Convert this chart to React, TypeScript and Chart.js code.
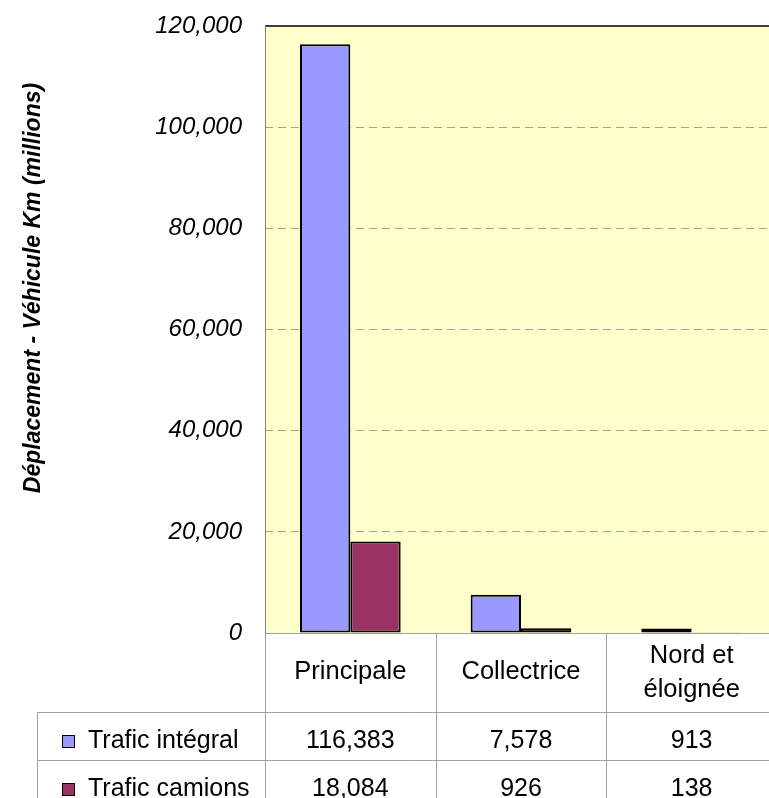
import React, { useEffect, useRef } from "react";
import { Chart, registerables } from "chart.js";

Chart.register(...registerables);

// ---- data ----
const categories = ["Principale", "Collectrice", "Nord et éloignée"];
const categoryLines = [["Principale"], ["Collectrice"], ["Nord et", "éloignée"]];
const seriesNames = ["Trafic intégral", "Trafic camions"];
const traficIntegral = [116383, 7578, 913];
const traficCamions = [18084, 926, 138];
const yTicks = [0, 20000, 40000, 60000, 80000, 100000, 120000];
const yTitle = "Déplacement - Véhicule Km (millions)";

const seriesColors = ["#9999FF", "#993366"];
const FONT = "'Liberation Sans', Arial, sans-serif";
const fmt = (v: number) => v.toLocaleString("en-US");

const tablePlugin = {
  id: "excelTable",
  beforeDraw(chart: any) {
    const { ctx, chartArea: a } = chart;
    ctx.save();
    ctx.fillStyle = "#FFFFCC";
    ctx.fillRect(a.left, a.top, a.right - a.left, a.bottom - a.top);
    ctx.restore();
  },
  afterDraw(chart: any) {
    const { ctx, chartArea: a, scales } = chart;
    const xs = scales.x;
    const n = categories.length;
    const cw = (a.right - a.left) / n;
    const H = chart.height;
    const rowTop = [a.bottom + 79, a.bottom + 127];
    const legendLeft = 37;

    ctx.save();
    // plot borders
    ctx.strokeStyle = "#000";
    ctx.lineWidth = 1.5;
    ctx.beginPath();
    ctx.moveTo(a.left, a.top);
    ctx.lineTo(a.right, a.top);
    ctx.stroke();
    ctx.strokeStyle = "#808080";
    ctx.lineWidth = 1;
    ctx.beginPath();
    ctx.moveTo(a.left + 0.5, a.top);
    ctx.lineTo(a.left + 0.5, a.bottom);
    ctx.stroke();

    // table lines
    ctx.strokeStyle = "#a0a0a0";
    ctx.lineWidth = 1;
    ctx.beginPath();
    ctx.moveTo(a.left, a.bottom + 0.5);
    ctx.lineTo(chart.width, a.bottom + 0.5);
    for (const rt of rowTop) {
      ctx.moveTo(legendLeft, rt + 0.5);
      ctx.lineTo(chart.width, rt + 0.5);
    }
    for (let i = 0; i <= n; i++) {
      const x = Math.round(a.left + i * cw) + 0.5;
      ctx.moveTo(x, a.bottom);
      ctx.lineTo(x, H);
    }
    ctx.moveTo(legendLeft + 0.5, rowTop[0]);
    ctx.lineTo(legendLeft + 0.5, H);
    ctx.stroke();

    // header labels
    ctx.fillStyle = "#000";
    ctx.font = `25.5px ${FONT}`;
    ctx.textAlign = "center";
    ctx.textBaseline = "alphabetic";
    categoryLines.forEach((lines, i) => {
      const cx = xs.getPixelForValue(i);
      if (lines.length === 1) {
        ctx.fillText(lines[0], cx, a.bottom + 46);
      } else {
        lines.forEach((t, j) => ctx.fillText(t, cx, a.bottom + 30 + j * 34));
      }
    });

    // rows
    ctx.font = `25px ${FONT}`;
    const rows = [traficIntegral, traficCamions];
    rows.forEach((vals, r) => {
      const base = rowTop[r] + 36;
      ctx.textAlign = "center";
      vals.forEach((v, i) => {
        ctx.fillText(fmt(v), xs.getPixelForValue(i), base);
      });
      // legend key
      ctx.fillStyle = seriesColors[r];
      ctx.fillRect(62, rowTop[r] + 23, 12, 12);
      ctx.strokeStyle = "#000";
      ctx.lineWidth = 1;
      ctx.strokeRect(62.5, rowTop[r] + 23.5, 12, 12);
      ctx.fillStyle = "#000";
      ctx.textAlign = "left";
      ctx.fillText(seriesNames[r], 88, base);
    });

    // y title
    ctx.translate(40, 288);
    ctx.rotate(-Math.PI / 2);
    ctx.font = `italic bold 23px ${FONT}`;
    ctx.textAlign = "center";
    ctx.fillText(yTitle, 0, 0);
    ctx.restore();
  },
};

export default function App() {
  const ref = useRef<HTMLCanvasElement | null>(null);
  useEffect(() => {
    if (!ref.current) return;
    const chart = new Chart(ref.current, {
      type: "bar",
      data: {
        labels: categories,
        datasets: [
          {
            label: seriesNames[0],
            data: traficIntegral,
            backgroundColor: seriesColors[0],
            borderColor: "#000",
            borderWidth: 2,
            borderSkipped: false,
          },
          {
            label: seriesNames[1],
            data: traficCamions,
            backgroundColor: seriesColors[1],
            borderColor: "#000",
            borderWidth: 2,
            borderSkipped: false,
          },
        ],
      },
      options: {
        responsive: false,
        animation: false,
        devicePixelRatio: 1,
        layout: { padding: { top: 26, right: 3, bottom: 165, left: 0 } },
        datasets: { bar: { categoryPercentage: 0.59, barPercentage: 1 } },
        plugins: {
          legend: { display: false },
          tooltip: { enabled: false },
          title: { display: false },
        },
        scales: {
          x: { display: false },
          y: {
            min: 0,
            max: 120000,
            afterFit: (s: any) => {
              s.width = 265;
              s.paddingTop = 0;
              s.paddingBottom = 0;
            },
            afterBuildTicks: (s: any) => {
              s.ticks = yTicks.map((v) => ({ value: v }));
            },
            ticks: {
              padding: 23,
              color: "#000",
              font: { family: FONT, size: 24, style: "italic" },
              callback: (v: any) => fmt(Number(v)),
            },
            grid: {
              drawTicks: false,
              lineWidth: 1,
              color: (c: any) =>
                c.tick && (c.tick.value === 0 || c.tick.value === 120000)
                  ? "rgba(0,0,0,0)"
                  : "#a0a0a0",
            },
            border: { display: false, dash: [8, 5] },
          },
        },
      },
      plugins: [tablePlugin],
    });
    return () => chart.destroy();
  }, []);

  return (
    <div
      style={{
        position: "absolute",
        left: 0,
        top: 0,
        width: 769,
        height: 798,
        overflow: "hidden",
        background: "#fff",
      }}
    >
      <canvas ref={ref} width={780} height={798} style={{ width: 780, height: 798, display: "block" }} />
    </div>
  );
}
